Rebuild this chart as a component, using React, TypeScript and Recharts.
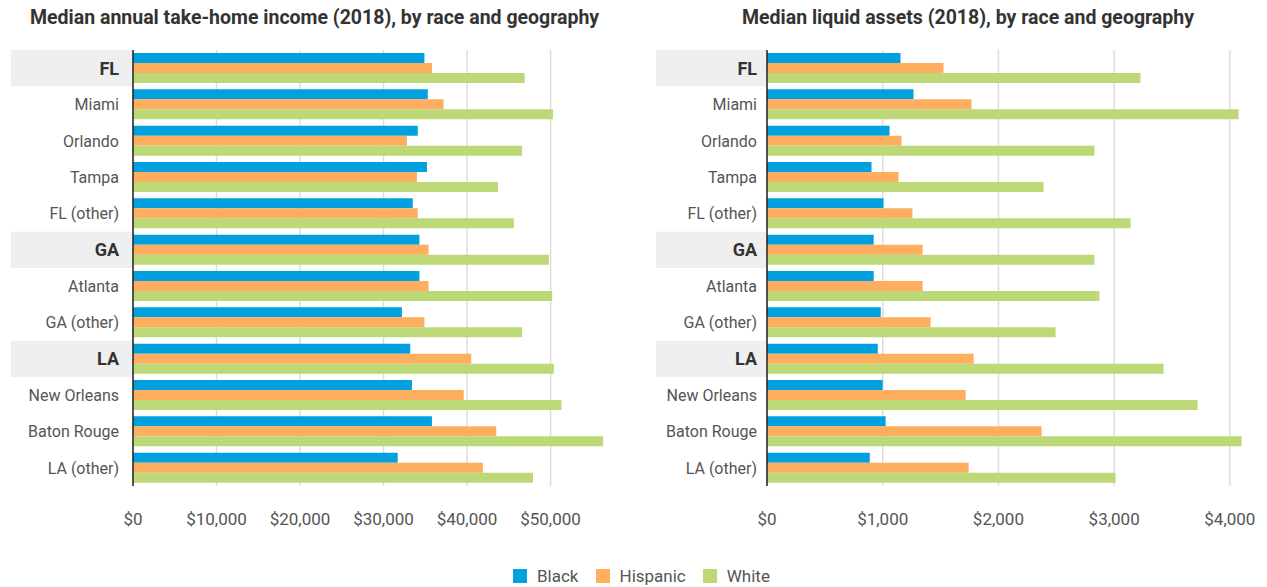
import { Bar, BarChart, CartesianGrid, XAxis, YAxis } from 'recharts';

const regions = [
  'FL',
  'Miami',
  'Orlando',
  'Tampa',
  'FL (other)',
  'GA',
  'Atlanta',
  'GA (other)',
  'LA',
  'New Orleans',
  'Baton Rouge',
  'LA (other)',
];
const states = ['FL', 'GA', 'LA'];

const incomeBlack = [34900, 35300, 34100, 35200, 33500, 34300, 34300, 32200, 33200, 33400, 35800, 31700];
const incomeHispanic = [35800, 37200, 32800, 34000, 34100, 35400, 35400, 34900, 40500, 39600, 43500, 41900];
const incomeWhite = [46900, 50300, 46600, 43700, 45600, 49800, 50200, 46600, 50400, 51300, 56300, 47900];
const incomeTicks = [0, 10000, 20000, 30000, 40000, 50000];

const assetsBlack = [1154, 1266, 1059, 903, 1007, 922, 922, 983, 957, 1000, 1025, 888];
const assetsHispanic = [1525, 1768, 1162, 1136, 1257, 1345, 1345, 1414, 1786, 1717, 2373, 1743];
const assetsWhite = [3228, 4075, 2830, 2390, 3142, 2830, 2873, 2494, 3427, 3721, 4101, 3012];
const assetsTicks = [0, 1000, 2000, 3000, 4000];

const raceNames = ['Black', 'Hispanic', 'White'];
const raceColors = ['#00a1de', '#ffad5f', '#bdd977'];

const FONT = 'Roboto, "Noto Sans", sans-serif';
const TOP = 50;
const PLOT_H = 436;
const X_AXIS_H = 44;

type PanelProps = {
  title: string;
  titleX: number;
  black: number[];
  hispanic: number[];
  white: number[];
  ticks: number[];
  max: number;
  width: number;
  axisWidth: number;
  bandLeft: number;
  labelGap: number;
  rightMargin: number;
};

function RegionTick(props: any) {
  const { x, y, payload, bandLeft, bandRight } = props;
  const rowH = PLOT_H / regions.length;
  const isState = states.includes(payload.value);
  return (
    <g>
      {isState && (
        <rect x={bandLeft} y={y - rowH / 2} width={bandRight - bandLeft - 1} height={rowH} fill="#efefef" />
      )}
      <text
        x={x}
        y={y}
        dy="0.355em"
        textAnchor="end"
        fontFamily={FONT}
        fontSize={isState ? 18 : 16}
        fontWeight={isState ? 700 : 400}
        fill={isState ? '#333' : '#555'}
      >
        {payload.value}
      </text>
    </g>
  );
}

function Panel(p: PanelProps) {
  const data = regions.map((region, i) => ({
    region,
    black: p.black[i],
    hispanic: p.hispanic[i],
    white: p.white[i],
  }));
  const keys = ['black', 'hispanic', 'white'];

  return (
    <div style={{ position: 'relative', width: p.width, height: 587 }}>
      <div
        style={{
          position: 'absolute',
          left: p.titleX,
          top: 6,
          fontFamily: FONT,
          fontWeight: 700,
          fontSize: 19.5,
          color: '#333',
          whiteSpace: 'nowrap',
        }}
      >
        {p.title}
      </div>
      <BarChart
        width={p.width}
        height={TOP + PLOT_H + X_AXIS_H}
        data={data}
        layout="vertical"
        margin={{ top: TOP, right: p.rightMargin, bottom: 0, left: 0 }}
        barSize={10}
        barGap={0}
      >
        <CartesianGrid
          horizontal={false}
          stroke="#dddddd"
          strokeWidth={1.5}
          verticalCoordinatesGenerator={({ offset }: any) =>
            p.ticks.map((t) => offset.left + (t / p.max) * offset.width)
          }
        />
        <XAxis
          type="number"
          domain={[0, p.max]}
          ticks={p.ticks}
          interval={0}
          height={X_AXIS_H}
          axisLine={false}
          tickLine={false}
          tickSize={0}
          tickMargin={27}
          tick={{ fontFamily: FONT, fontSize: 17, fill: '#555' }}
          tickFormatter={(v: number) => `$${v.toLocaleString('en-US')}`}
        />
        <YAxis
          type="category"
          dataKey="region"
          width={p.axisWidth}
          interval={0}
          axisLine={{ stroke: '#222', strokeWidth: 1.5 }}
          tickLine={false}
          tickSize={0}
          tickMargin={p.labelGap}
          tick={<RegionTick bandLeft={p.bandLeft} bandRight={p.axisWidth} />}
        />
        {keys.map((k, i) => (
          <Bar key={k} dataKey={k} name={raceNames[i]} fill={raceColors[i]} isAnimationActive={false} />
        ))}
      </BarChart>
    </div>
  );
}

export default function App() {
  return (
    <div
      style={{
        position: 'absolute',
        left: 0,
        top: 0,
        width: 1267,
        height: 587,
        background: '#fff',
        display: 'flex',
      }}
    >
      <Panel
        title="Median annual take-home income (2018), by race and geography"
        titleX={30}
        black={incomeBlack}
        hispanic={incomeHispanic}
        white={incomeWhite}
        ticks={incomeTicks}
        max={57000}
        width={640}
        axisWidth={133}
        bandLeft={11}
        labelGap={14}
        rightMargin={31}
      />
      <Panel
        title="Median liquid assets (2018), by race and geography"
        titleX={102}
        black={assetsBlack}
        hispanic={assetsHispanic}
        white={assetsWhite}
        ticks={assetsTicks}
        max={4200}
        width={627}
        axisWidth={127}
        bandLeft={16}
        labelGap={10}
        rightMargin={14}
      />
      <div
        style={{
          position: 'absolute',
          left: 513,
          top: 566,
          display: 'flex',
          alignItems: 'center',
          fontFamily: FONT,
          fontSize: 17,
          color: '#555',
        }}
      >
        {raceNames.map((name, i) => (
          <div key={name} style={{ display: 'flex', alignItems: 'center', marginRight: 17 }}>
            <span style={{ width: 14, height: 14, background: raceColors[i], marginRight: 10 }} />
            <span>{name}</span>
          </div>
        ))}
      </div>
    </div>
  );
}
